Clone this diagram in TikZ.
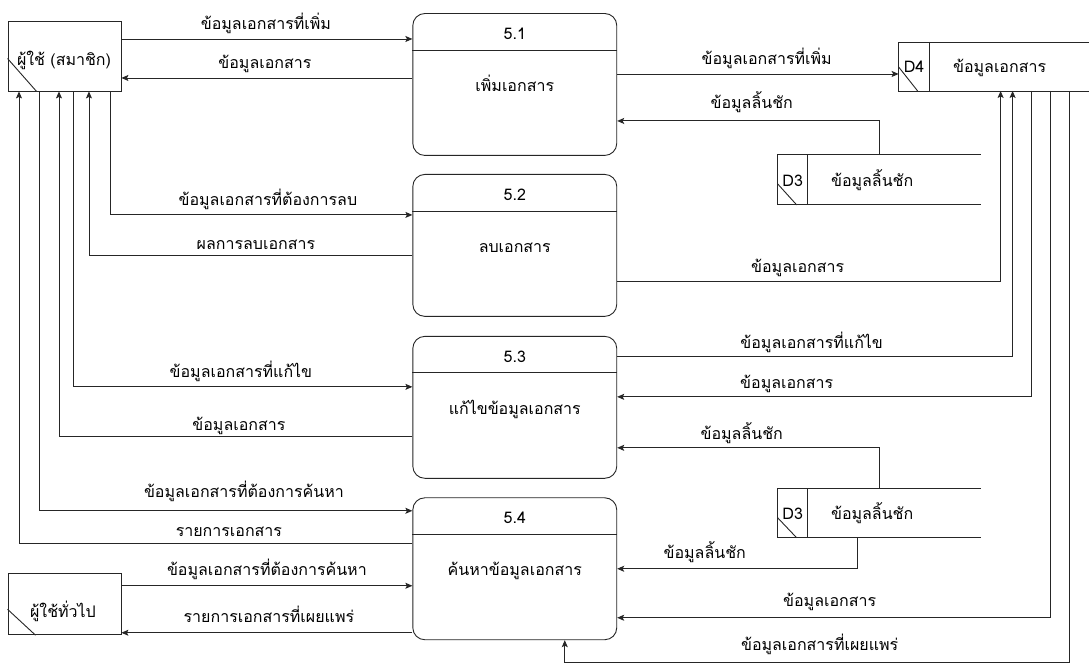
\documentclass[tikz,border=0pt]{standalone}
\usepackage{fontspec}
\setmainfont[Script=Thai]{Loma}
\usetikzlibrary{arrows.meta,calc}
\begin{document}
\begin{tikzpicture}[x=1pt,y=-1pt,
  line/.style={draw=black!85, line width=0.9pt},
  flow/.style={line, -{Stealth[length=7pt,width=6pt,inset=1.5pt]}},
  proc/.style={line, rounded corners=12pt, minimum width=204pt, minimum height=142pt, inner sep=0pt},
  ent/.style={line, minimum width=113pt, inner sep=0pt},
  box/.style={inner sep=0pt, outer sep=0pt},
  txt/.style={font=\fontsize{16}{18}\selectfont, inner sep=0pt, anchor=mid, yshift=-3pt},
]
% canvas
\fill[white] (0,0) rectangle (1089,666);

% external entities
\node[ent, minimum height=70pt] (u1) at (64.5,56) {};
\draw[line] ($(u1.north west)+(0,38)$) -- ($(u1.south west)+(29,0)$);
\node[txt] (u1t) at (64,60) {ผู้ใช้ (สมาชิก)};

\node[ent, minimum height=61pt] (u2) at (64.5,604.5) {};
\draw[line] ($(u2.north west)+(0,36)$) -- ($(u2.south west)+(28,0)$);
\node[txt] (u2t) at (63,612) {ผู้ใช้ทั่วไป};

% processes
\foreach \n/\cy/\num/\title in {1/84.5/5.1/เพิ่มเอกสาร, 2/245.5/5.2/ลบเอกสาร, 3/407.5/5.3/แก้ไขข้อมูลเอกสาร, 4/569/5.4/ค้นหาข้อมูลเอกสาร}{
  \node[proc] (p\n) at (515,\cy) {};
  \draw[line] ($(p\n.north west)+(0,37)$) -- ($(p\n.north east)+(0,37)$);
  \node[txt] (p\n num) at ($(p\n.north)+(0,21)$) {\num};
  \node[txt] (p\n title) at ($(p\n.north)+(0,73)$) {\title};
}

% data store D4
\node[box, minimum width=190pt, minimum height=49pt] (d4) at (994,66.5) {};
\node[box, minimum width=31pt, minimum height=49pt, anchor=north west] (d4id) at (d4.north west) {};
\draw[line] (d4.north east) -- (d4.north west) -- (d4.south west) -- (d4.south east);
\draw[line] (d4id.north east) -- (d4id.south east);
\draw[line] ($(d4.north west)+(0,25)$) -- ($(d4.south west)+(19,0)$);
\node[txt] (d4lbl) at (d4id.center) {D4};
\node[txt] (d4name) at (1000,67) {ข้อมูลเอกสาร};

% data stores D3
\foreach \s/\cy/\h in {a/180/50, b/513.5/49}{
  \node[box, minimum width=203pt, minimum height=\h pt] (d3\s) at (879.5,\cy) {};
  \node[box, minimum width=30pt, minimum height=\h pt, anchor=north west] (d3\s id) at (d3\s.north west) {};
  \draw[line] (d3\s.north east) -- (d3\s.north west) -- (d3\s.south west) -- (d3\s.south east);
  \draw[line] (d3\s id.north east) -- (d3\s id.south east);
  \draw[line] ($(d3\s.north west)+(0,29)$) -- ($(d3\s.south west)+(19,0)$);
  \node[txt] (d3\s lbl) at ($(d3\s id.center)+(0,1)$) {D3};
  \node[txt] (d3\s name) at ($(d3\s.center)+(-7,1)$) {ข้อมูลลิ้นชัก};
}

% flows: member user <-> processes
\draw[flow] (u1.east |- 0,39) -- (p1.west |- 0,39);
\draw[flow] (p1.west |- 0,78) -- (u1.east |- 0,78);
\draw[flow] (u1.south -| 110,0) |- (p2.west |- 0,215);
\draw[flow] (p2.west |- 0,256) -| (u1.south -| 89,0);
\draw[flow] (u1.south -| 73,0) |- (p3.west |- 0,387);
\draw[flow] (p3.west |- 0,437) -| (u1.south -| 59,0);
\draw[flow] (u1.south -| 39,0) |- (p4.west |- 0,511);
\draw[flow] (p4.west |- 0,544) -| (u1.south -| 19,0);

% flows: general user <-> search
\draw[flow] (u2.east |- 0,586) -- (p4.west |- 0,586);
\draw[flow] (p4.west |- 0,633) -- (u2.east |- 0,633);

% flows: processes <-> stores
\draw[flow] (p1.east |- 0,74) -- (d4.west |- 0,74);
\draw[flow] (d3a.north) |- (p1.east |- 0,121);
\draw[flow] (p2.east |- 0,282) -| (d4.south -| 1001,0);
\draw[flow] (p3.east |- 0,357) -| (d4.south -| 1013,0);
\draw[flow] (d4.south -| 1032,0) |- (p3.east |- 0,397);
\draw[flow] (d3b.north) |- (p3.east |- 0,448);
\draw[flow] (d3b.south -| 858,0) |- (p4.east |- 0,569);
\draw[flow] (d4.south -| 1051,0) |- (p4.east |- 0,618);
\coordinate (pubturn) at (1070,663);
\draw[flow] (d4.south -| 1070,0) -- (pubturn) -| (p4.south -| 565,0);

% flow labels
\node[txt] (l1) at (266,24) {ข้อมูลเอกสารที่เพิ่ม};
\node[txt] (l2) at (265,63) {ข้อมูลเอกสาร};
\node[txt] (l3) at (268,200) {ข้อมูลเอกสารที่ต้องการลบ};
\node[txt] (l4) at (256,244) {ผลการลบเอกสาร};
\node[txt] (l5) at (241,372) {ข้อมูลเอกสารที่แก้ไข};
\node[txt] (l6) at (239,425) {ข้อมูลเอกสาร};
\node[txt] (l7) at (244,492) {ข้อมูลเอกสารที่ต้องการค้นหา};
\node[txt] (l8) at (229,531) {รายการเอกสาร};
\node[txt] (l9) at (267,570) {ข้อมูลเอกสารที่ต้องการค้นหา};
\node[txt] (l10) at (269,617) {รายการเอกสารที่เผยแพร่};
\node[txt] (r1) at (767,59) {ข้อมูลเอกสารที่เพิ่ม};
\node[txt] (r2) at (752,103) {ข้อมูลลิ้นชัก};
\node[txt] (r3) at (798,267) {ข้อมูลเอกสาร};
\node[txt] (r4) at (812,343) {ข้อมูลเอกสารที่แก้ไข};
\node[txt] (r5) at (787,383) {ข้อมูลเอกสาร};
\node[txt] (r6) at (742,434) {ข้อมูลลิ้นชัก};
\node[txt] (r7) at (705,553) {ข้อมูลลิ้นชัก};
\node[txt] (r8) at (830,601) {ข้อมูลเอกสาร};
\node[txt] (r9) at (820,645) {ข้อมูลเอกสารที่เผยแพร่};
\end{tikzpicture}
\end{document}
